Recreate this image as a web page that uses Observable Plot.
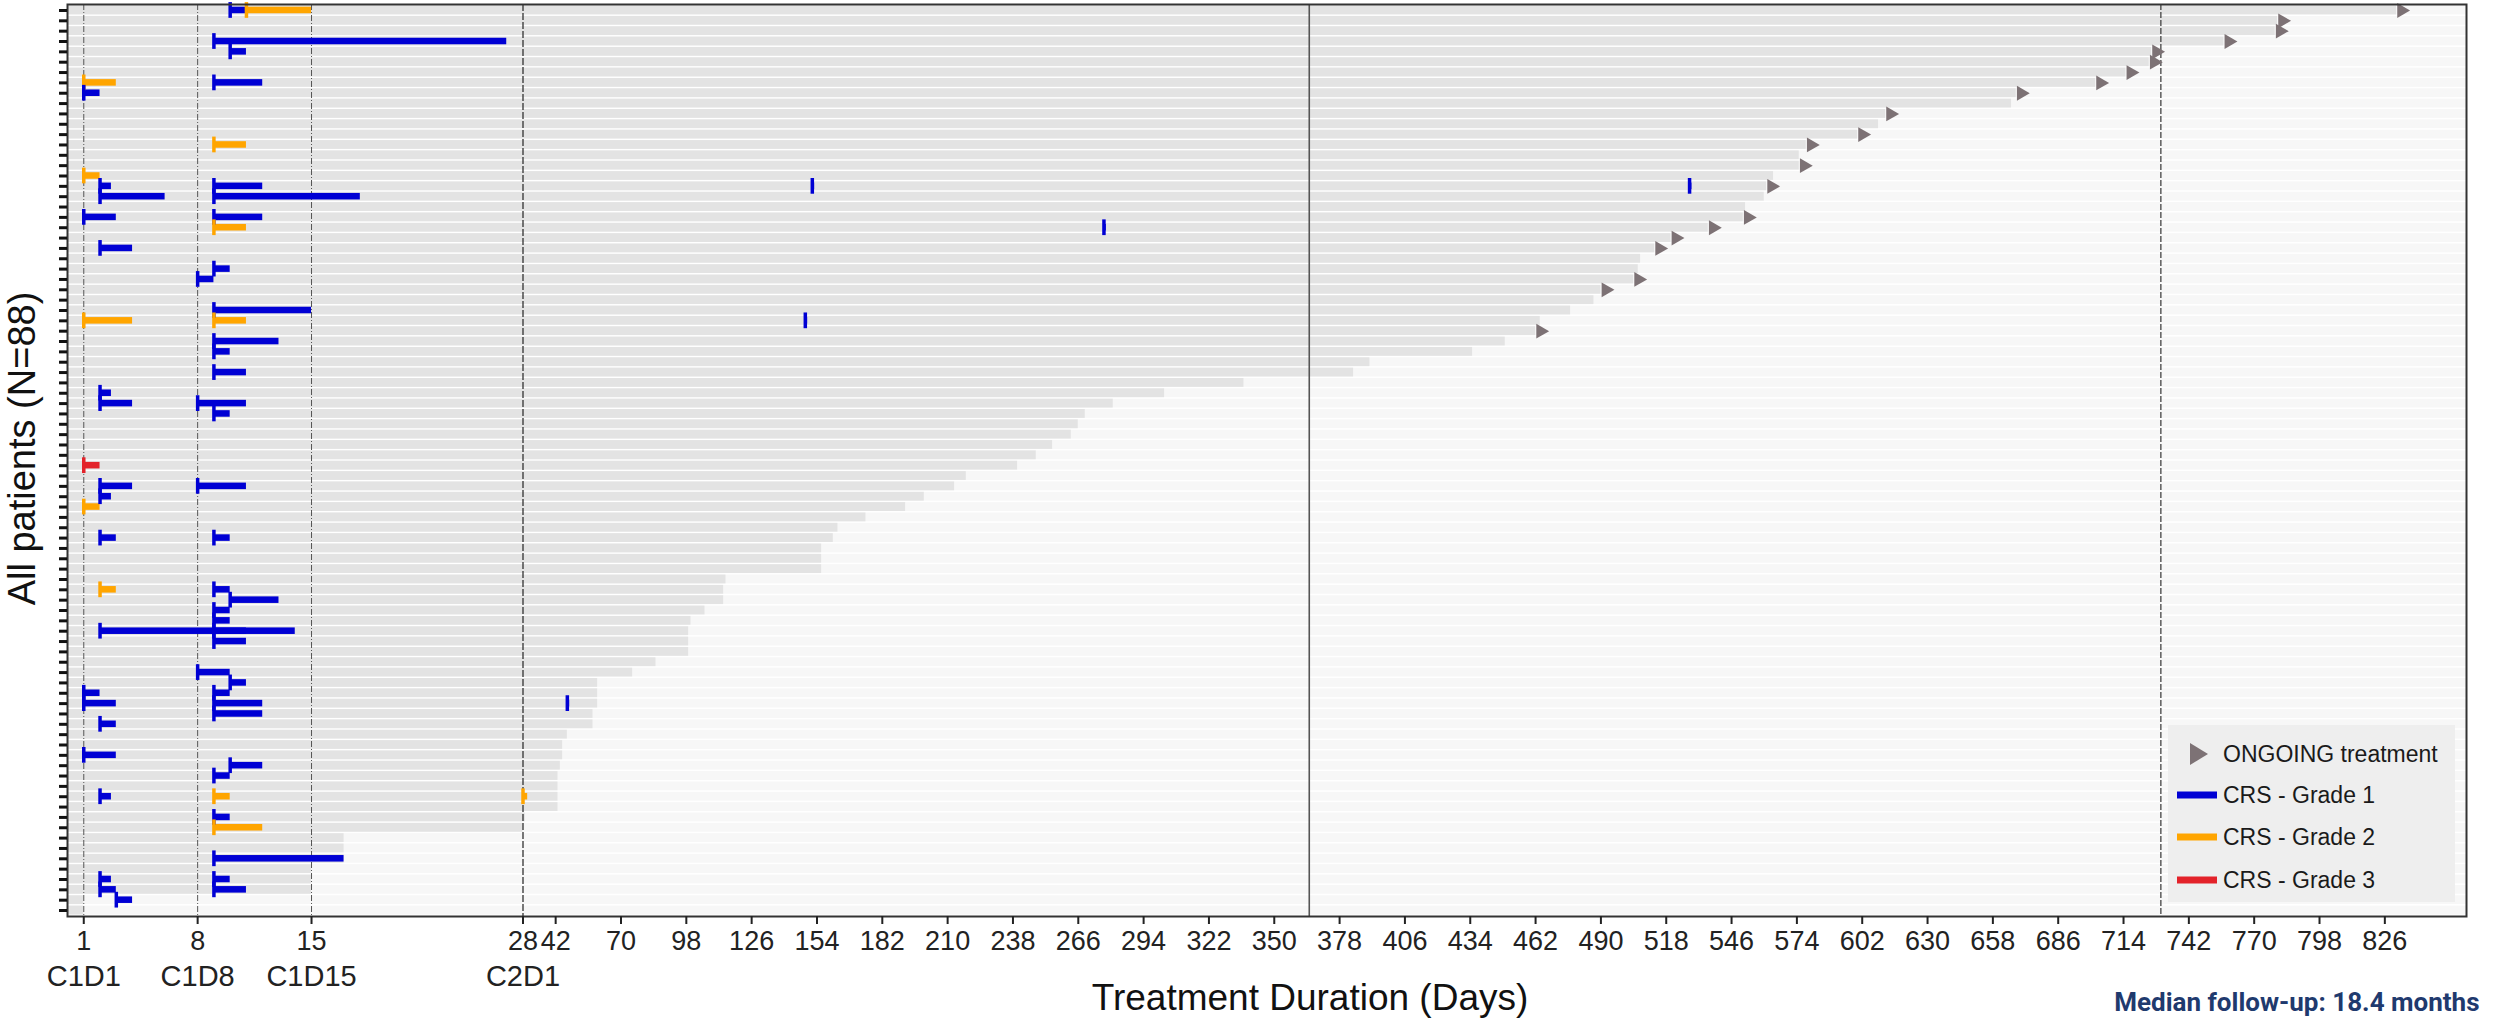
<!DOCTYPE html>
<html>
<head>
<meta charset="utf-8">
<script src="https://cdn.jsdelivr.net/npm/d3@7"></script>
<script src="https://cdn.jsdelivr.net/npm/@observablehq/plot@0.6"></script>
<style>
  html, body { margin: 0; padding: 0; background: #fff; }
  #chart { position: relative; width: 2496px; height: 1019px; font-family: "Liberation Sans", Arial, sans-serif; }
  #legend { position: absolute; left: 2168px; top: 725px; width: 287px; height: 177px; background: #eeeeee; }
  #legend .sw { position: absolute; left: 0; width: 52px; height: 30px; }
  #legend .lb { position: absolute; left: 55px; font-size: 23px; color: #1a1a1a; line-height: 30px; white-space: nowrap; }
</style>
</head>
<body>
<div id="chart"></div>
<script>
// Treatment duration in days for each patient, sorted longest first (row 0 = top)
const durations = [
  831, 780, 779, 757, 726, 725, 715, 702, 668, 666,
  612, 609, 600, 578, 575, 575, 564, 561, 560, 552,
  551, 536, 520, 513, 507, 506, 504, 490, 487, 477,
  464, 462, 449, 435, 391, 384, 337, 303, 281, 269,
  266, 263, 255, 248, 240, 218, 213, 200, 192, 175,
  163, 161, 156, 156, 156, 115, 114, 114, 106, 100,
  99, 99, 99, 85, 75, 60, 60, 60, 58, 58,
  47, 45, 45, 44, 43, 43, 43, 43, 29, 28,
  17, 17, 17, 15, 15, 15, 1, 1
];

// Rows still on treatment at data cut-off
const ongoingRows = [0, 1, 2, 3, 4, 5, 6, 7, 8, 10, 12, 13, 15, 17, 20, 21, 22, 23, 26, 27, 31];

// CRS episodes: patient row, onset day, resolution day, grade
const crsRow   = [0, 0, 3, 4, 7, 7, 8, 13, 16, 17, 17, 17, 17, 18, 18, 20, 20, 21, 21, 23,
                  25, 26, 29, 30, 30, 30, 32, 33, 35, 37, 38, 38, 39, 44, 46, 46, 47, 48, 51, 51,
                  56, 56, 57, 58, 59, 60, 60, 61, 64, 65, 66, 66, 67, 67, 67, 68, 69, 72, 73, 74,
                  76, 76, 76, 78, 79, 82, 84, 84, 85, 85, 86];
const crsStart = [10, 11, 9, 10, 1, 9, 1, 9, 1, 2, 9, 152, 528, 2, 9, 1, 9, 9, 277, 2,
                  9, 8, 9, 1, 9, 149, 9, 9, 9, 2, 2, 8, 9, 1, 2, 8, 2, 1, 2, 9,
                  2, 9, 10, 9, 9, 2, 9, 9, 8, 10, 1, 9, 1, 9, 47, 9, 2, 1, 10, 9,
                  2, 9, 28, 9, 9, 9, 2, 9, 2, 9, 3];
const crsEnd   = [11, 15, 27, 11, 3, 12, 2, 11, 2, 2.7, 12, 153, 529, 6, 18, 3, 12, 11, 278, 4,
                  10, 9, 15, 4, 11, 150, 13, 10, 11, 2.7, 4, 11, 10, 2, 4, 11, 2.7, 2, 3, 10,
                  3, 10, 13, 10, 10, 14, 11, 11, 10, 11, 2, 10, 3, 12, 48, 12, 3, 3, 12, 10,
                  2.7, 10, 30, 10, 12, 17, 2.7, 10, 3, 11, 4];
const crsGrade = [1, 2, 1, 1, 2, 1, 1, 2, 2, 1, 1, 1, 1, 1, 1, 1, 1, 2, 1, 1,
                  1, 1, 1, 2, 2, 1, 1, 1, 1, 1, 1, 1, 1, 3, 1, 1, 1, 2, 1, 1,
                  2, 1, 1, 1, 1, 1, 1, 1, 1, 1, 1, 1, 1, 1, 1, 1, 1, 1, 1, 1,
                  1, 2, 2, 1, 2, 1, 1, 1, 1, 1, 1];

// Axis ticks and dosing-day labels
const dayTicks = [1, 8, 15, 28, 42, 70, 98, 126, 154, 182, 210, 238, 266, 294, 322, 350,
                  378, 406, 434, 462, 490, 518, 546, 574, 602, 630, 658, 686, 714, 742,
                  770, 798, 826];
const cycleDays = [1, 8, 15, 28];
const cycleLabels = ["C1D1", "C1D8", "C1D15", "C2D1"];

// Reference lines
const doseDays = [1, 8, 15];
const cycleStart = [28];
const yearMarks = [365];
const twoYearMarks = [730];

const gradeNames = ["CRS - Grade 1", "CRS - Grade 2", "CRS - Grade 3"];
const gradeColors = ["#0000d4", "#ffa500", "#e3222a"];
const ongoingLabel = "ONGOING treatment";
const arrowColor = "#7d7275";

const nRows = durations.length;
const rows = d3.range(nRows);
const patients = durations.map((d, i) => ({row: i, duration: d}));
const ongoing = ongoingRows.map(r => ({row: r, duration: durations[r]}));
const crs = crsRow.map((r, i) => ({row: r, start: crsStart[i], end: crsEnd[i], grade: crsGrade[i]}));

const chart = Plot.plot({
  width: 2496,
  height: 1019,
  marginTop: 4,
  marginBottom: 103,
  marginLeft: 67,
  marginRight: 30,
  style: {fontFamily: "Liberation Sans, Arial, sans-serif", background: "#fff"},
  x: {type: "linear", domain: [0, 28, 861], range: [67, 522.5, 2466]},
  y: {type: "band", domain: rows, range: [4.8, 915.2], padding: 0},
  color: {type: "ordinal", domain: [1, 2, 3], range: gradeColors},
  marks: [
    // faint full-width row bands
    Plot.barX(rows, {x1: 0, x2: 861, y: d => d, fill: "#f7f7f7", insetTop: 0.75, insetBottom: 0.75}),
    // treatment duration bars
    Plot.barX(patients, {x1: 0, x2: "duration", y: "row", fill: "#e3e3e3", insetTop: 0.75, insetBottom: 0.75}),
    // dosing days and milestones
    Plot.ruleX(doseDays, {stroke: "#555", strokeWidth: 1, strokeDasharray: "6,2,1,2"}),
    Plot.ruleX(cycleStart, {stroke: "#333", strokeWidth: 1.3, strokeDasharray: "7,2"}),
    Plot.ruleX(yearMarks, {stroke: "#555", strokeWidth: 1.6}),
    Plot.ruleX(twoYearMarks, {stroke: "#444", strokeWidth: 1.3, strokeDasharray: "6,2"}),
    // CRS episodes
    Plot.barX(crs, {x1: "start", x2: "end", y: "row", fill: "grade", insetTop: 1.9, insetBottom: 1.9}),
    Plot.tickX(crs, {x: "start", y: "row", stroke: "grade", strokeWidth: 3.5, insetTop: -2.7, insetBottom: -2.7}),
    // ongoing treatment arrows
    Plot.dot(ongoing, {x: "duration", y: "row", symbol: "triangle", rotate: 90, r: 5.5, fill: arrowColor, dx: 5}),
    Plot.frame({stroke: "#333", strokeWidth: 2}),
    Plot.axisY({tickSize: 8, tickFormat: () => "", label: null, stroke: "#111", strokeWidth: 3}),
    Plot.axisX({ticks: dayTicks, tickSize: 8, tickPadding: 6, fontSize: 27, color: "#222", strokeWidth: 2, label: null}),
    Plot.text(cycleDays, {x: d => d, text: (d, i) => cycleLabels[i], frameAnchor: "bottom", lineAnchor: "middle",
      dy: 60, fontSize: 29, fill: "#222"}),
    Plot.text(["Treatment Duration (Days)"], {frameAnchor: "bottom", lineAnchor: "middle", dx: 43, dy: 82,
      fontSize: 37, fill: "#111"}),
    Plot.text(["All patients (N=88)"], {frameAnchor: "left", textAnchor: "middle", lineAnchor: "middle",
      dx: -45, dy: -12, rotate: -90, fontSize: 38, fill: "#111"}),
    Plot.text(["Median follow-up: 18.4 months"], {frameAnchor: "bottom-right", textAnchor: "end", lineAnchor: "middle",
      dx: 13, dy: 86, fontSize: 26, fontWeight: "bold", fill: "#1f3a6e",
      fontFamily: "Liberation Sans Narrow, Roboto, sans-serif"})
  ]
});

const root = document.getElementById("chart");
root.appendChild(chart);

// legend box
const legend = document.createElement("div");
legend.id = "legend";
const ns = "http://www.w3.org/2000/svg";
const entries = [{label: ongoingLabel, kind: "arrow", color: arrowColor}]
  .concat(gradeNames.map((g, i) => ({label: g, kind: "line", color: gradeColors[i]})));
const centers = [29, 70, 112, 155];
entries.forEach((e, i) => {
  const sw = document.createElementNS(ns, "svg");
  sw.setAttribute("class", "sw");
  sw.setAttribute("width", 52);
  sw.setAttribute("height", 30);
  sw.style.top = (centers[i] - 15) + "px";
  if (e.kind === "arrow") {
    const p = document.createElementNS(ns, "path");
    p.setAttribute("d", "M22,4 L40,15 L22,26 Z");
    p.setAttribute("fill", e.color);
    sw.appendChild(p);
  } else {
    const r = document.createElementNS(ns, "rect");
    r.setAttribute("x", 9); r.setAttribute("y", 11.5);
    r.setAttribute("width", 40); r.setAttribute("height", 7);
    r.setAttribute("fill", e.color);
    sw.appendChild(r);
  }
  legend.appendChild(sw);
  const lb = document.createElement("div");
  lb.className = "lb";
  lb.style.top = (centers[i] - 15) + "px";
  lb.textContent = e.label;
  legend.appendChild(lb);
});
root.appendChild(legend);
</script>
</body>
</html>
